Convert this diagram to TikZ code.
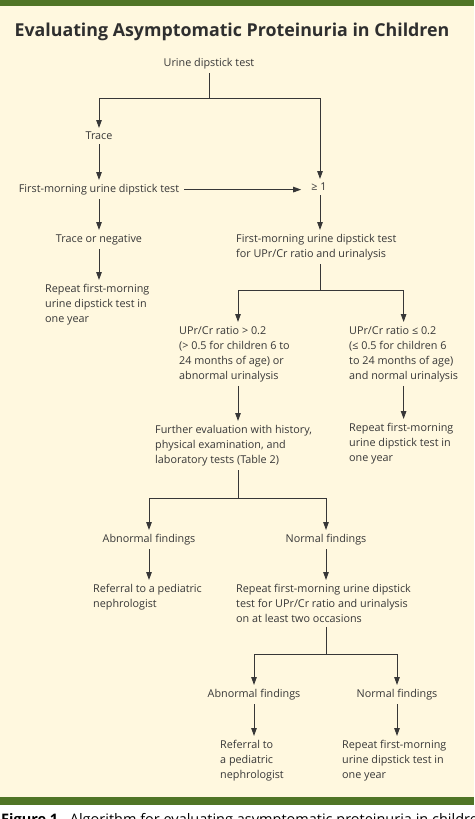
\documentclass[tikz,border=0pt]{standalone}
\usepackage{fontspec}
\setmainfont{Open Sans}
\usetikzlibrary{arrows.meta,positioning}
\definecolor{barGreen}{RGB}{80,117,38}
\definecolor{creamBg}{RGB}{255,248,223}
\definecolor{inkGray}{RGB}{55,55,55}
\begin{document}
\begin{tikzpicture}[x=1pt,y=-1pt,
 txt/.style={font=\fontsize{10.8}{15}\selectfont,text=inkGray,inner sep=0pt},
 lbox/.style={txt,anchor=north west,align=left},
 cbox/.style={txt,anchor=north},
 link/.style={draw=inkGray,line width=1pt},
 gapstart/.style={shorten <=4pt},
 arr/.style={link,-{Triangle[length=8pt,width=5.5pt]},shorten >=4pt}]
\useasboundingbox (0,0) rectangle (474,819);
\clip (0,0) rectangle (474,819);
\fill[creamBg] (0,0) rectangle (474,797);
\fill[barGreen] (0,0) rectangle (474,6);
\fill[barGreen] (0,797) rectangle (474,805);
\node[font=\bfseries\fontsize{17.8}{22}\selectfont,text=inkGray!85!black,anchor=base] (title) at (232,36.5){Evaluating Asymptomatic Proteinuria in Children};
\node[cbox] (usd) at (209,58){Urine dipstick test};
\node[cbox] (trace) at (99,132){Trace};
\node[cbox] (fm1) at (99,184){First-morning urine dipstick test};
\node[cbox] (ge) at (319,183){≥ 1};
\node[cbox] (ton) at (99,234){Trace or negative};
\node[lbox] (rep1) at (45,284){Repeat first-morning\\urine dipstick test in\\one year};
\node[lbox] (fm2) at (236,234){First-morning urine dipstick test\\for UPr/Cr ratio and urinalysis};
\node[lbox] (hi) at (179,326){UPr/Cr ratio > 0.2\\(> 0.5 for children 6 to\\24 months of age) or\\abnormal urinalysis};
\node[lbox] (lo) at (349,326){UPr/Cr ratio ≤ 0.2\\(≤ 0.5 for children 6\\to 24 months of age)\\and normal urinalysis};
\node[lbox] (fe) at (155,425){Further evaluation with history,\\physical examination, and\\laboratory tests (Table 2)};
\node[lbox] (rep2) at (349,423){Repeat first-morning\\urine dipstick test in\\one year};
\node[cbox] (ab1) at (149,534){Abnormal findings};
\node[cbox] (nf1) at (326,534){Normal findings};
\node[lbox] (ref1) at (93,584){Referral to a pediatric\\nephrologist};
\node[lbox] (rep3) at (236,584){Repeat first-morning urine dipstick\\test for UPr/Cr ratio and urinalysis\\on at least two occasions};
\node[cbox] (ab2) at (254,689){Abnormal findings};
\node[cbox] (nf2) at (397,689){Normal findings};
\node[lbox] (ref2) at (220,740){Referral to\\a pediatric\\nephrologist};
\node[lbox] (rep4) at (342,740){Repeat first-morning\\urine dipstick test in\\one year};
\node[font=\fontsize{14.5}{17}\selectfont,text=black,anchor=base west,inner sep=0pt] (cap) at (1,824.5){\textbf{Figure 1.}\ \ Algorithm for evaluating asymptomatic proteinuria in children};
\coordinate (b1) at (209,98);
\coordinate (b2) at (320,290);
\coordinate (b3) at (238,498);
\coordinate (b4) at (326,654);
\draw[link,gapstart] (usd.south) -- (b1);
\draw[arr] (b1) -| (trace.north);
\draw[arr] (b1) -| (b2 |- ge.north);
\draw[arr,gapstart] (trace.south) -- (trace.south |- fm1.north);
\draw[arr,shorten <=5pt,shorten >=10pt] (fm1.east) -- (fm1.east -| ge.west);
\draw[arr,gapstart] (fm1.south) -- (fm1.south |- ton.north);
\draw[arr,gapstart] (ton.south) -- (ton.south |- rep1.north);
\draw[arr,gapstart] (b2 |- ge.south) -- (b2 |- fm2.north);
\draw[link,gapstart] (b2 |- fm2.south) -- (b2);
\draw[arr] (b2) -| (b3 |- hi.north);
\draw[arr] (b2) -| (lo.north);
\draw[arr,gapstart] (b3 |- hi.south) -- (b3 |- fe.north);
\draw[arr,gapstart] (lo.south) -- (lo.south |- rep2.north);
\draw[link,gapstart] (b3 |- fe.south) -- (b3);
\draw[arr] (b3) -| (ab1.north);
\draw[arr] (b3) -| (b4 |- nf1.north);
\draw[arr,gapstart] (ab1.south) -- (ab1.south |- ref1.north);
\draw[arr,gapstart] (b4 |- nf1.south) -- (b4 |- rep3.north);
\draw[link,gapstart] (b4 |- rep3.south) -- (b4);
\draw[arr] (b4) -| (ab2.north);
\draw[arr] (b4) -| (nf2.north);
\draw[arr,gapstart] (ab2.south) -- (ab2.south |- ref2.north);
\draw[arr,gapstart] (nf2.south) -- (nf2.south |- rep4.north);
\end{tikzpicture}
\end{document}
